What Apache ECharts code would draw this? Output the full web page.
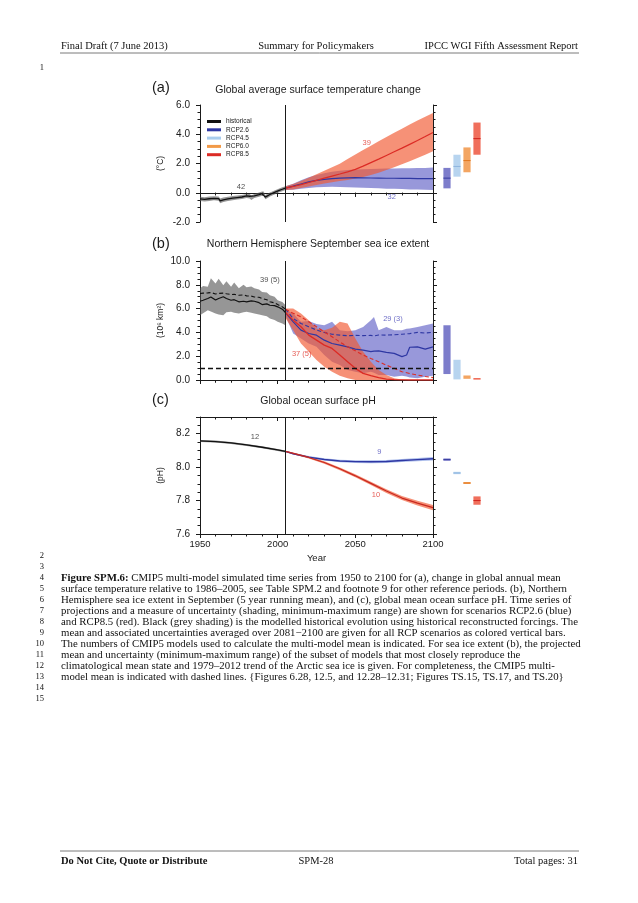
<!DOCTYPE html>
<html><head><meta charset="utf-8">
<script src="https://cdn.jsdelivr.net/npm/echarts@6/dist/echarts.min.js"></script>
<style>html,body{margin:0;padding:0;background:#fff}#c{width:638px;height:903px}</style>
</head><body><div id="c"></div>
<script>
// ---------------- DATA ----------------
const scenarios = ['RCP2.6', 'RCP4.5', 'RCP6.0', 'RCP8.5'];
const xTickYears = [1950, 2000, 2050, 2100];

// (a) temperature change
const tempHistYears = [1950,1953,1956,1959,1962,1963,1965,1968,1971,1974,1977,1980,1982,1983,1985,1988,1990,1991,1992,1993,1995,1998,2001,2003,2005];
const tempHist   = [-0.42,-0.45,-0.41,-0.38,-0.40,-0.55,-0.48,-0.42,-0.37,-0.33,-0.29,-0.22,-0.24,-0.34,-0.22,-0.13,-0.06,-0.05,-0.30,-0.25,-0.12,0.02,0.16,0.24,0.32];
const tempHistLo = [-0.57,-0.60,-0.56,-0.52,-0.55,-0.72,-0.63,-0.56,-0.51,-0.47,-0.43,-0.36,-0.39,-0.49,-0.36,-0.27,-0.20,-0.19,-0.45,-0.39,-0.26,-0.12,0.03,0.11,0.19];
const tempHistHi = [-0.27,-0.30,-0.26,-0.24,-0.25,-0.39,-0.33,-0.28,-0.23,-0.19,-0.15,-0.08,-0.09,-0.19,-0.08,0.01,0.08,0.09,-0.16,-0.11,0.02,0.15,0.29,0.37,0.45];
const tempYears  = [2005,2010,2015,2020,2025,2030,2035,2040,2045,2050,2055,2060,2065,2070,2075,2080,2085,2090,2095,2100];
const temp26   = [0.32,0.45,0.60,0.74,0.85,0.92,0.97,1.00,1.02,1.03,1.02,1.01,1.00,0.99,0.99,0.98,0.98,0.97,0.97,0.97];
const temp26Hi = [0.45,0.62,0.86,1.06,1.22,1.34,1.44,1.50,1.55,1.59,1.61,1.62,1.64,1.65,1.66,1.67,1.68,1.69,1.70,1.72];
const temp26Lo = [0.19,0.20,0.27,0.32,0.37,0.40,0.41,0.40,0.38,0.36,0.34,0.32,0.30,0.28,0.27,0.25,0.23,0.22,0.20,0.19];
const temp85   = [0.32,0.43,0.56,0.70,0.85,1.00,1.14,1.28,1.43,1.60,1.82,2.06,2.30,2.55,2.80,3.05,3.31,3.57,3.84,4.12];
const temp85Hi = [0.45,0.60,0.81,1.03,1.27,1.51,1.74,1.98,2.30,2.62,2.92,3.22,3.52,3.82,4.10,4.38,4.66,4.94,5.20,5.45];
const temp85Lo = [0.19,0.22,0.32,0.42,0.53,0.63,0.72,0.80,0.88,0.97,1.08,1.21,1.37,1.55,1.74,1.95,2.16,2.38,2.60,2.84];
const tempBarMean = [1.0, 1.8, 2.2, 3.7];
const tempBarLo   = [0.3, 1.1, 1.4, 2.6];
const tempBarHi   = [1.7, 2.6, 3.1, 4.8];

// (b) sea ice extent
const iceHistYears = [1950,1952,1955,1957,1960,1962,1965,1967,1970,1972,1975,1978,1980,1983,1985,1988,1990,1993,1995,1998,2000,2003,2005];
const iceHist   = [6.62,6.70,6.85,6.98,6.72,6.85,7.00,6.85,6.70,6.75,6.57,6.62,6.57,6.65,6.62,6.50,6.34,6.40,6.28,6.25,6.15,5.95,5.67];
const iceHistMM = [7.27,7.30,7.32,7.35,7.23,7.28,7.30,7.25,7.18,7.20,7.12,7.15,7.07,7.05,6.98,6.95,6.85,6.75,6.57,6.48,6.34,6.15,5.95];
const iceHistHi = [7.70,7.90,7.83,8.55,8.10,8.50,7.96,8.30,7.83,8.20,7.70,8.00,7.80,7.85,7.70,7.60,7.40,7.35,7.12,7.00,6.70,6.55,6.30];
const iceHistLo = [5.45,5.60,5.87,5.75,5.59,5.50,5.45,5.70,5.73,5.65,5.59,5.70,5.73,5.65,5.59,5.50,5.45,5.35,5.17,5.05,4.89,4.75,4.60];
const ice26Years = [2005,2010,2015,2020,2025,2030,2035,2040,2045,2050,2055,2060,2062,2065,2070,2075,2080,2083,2085,2090,2095,2100];
const ice26   = [5.67,4.89,4.19,3.91,3.77,3.35,3.07,2.93,2.79,2.60,2.51,2.38,2.42,2.45,2.32,2.24,1.96,2.10,2.75,2.79,2.60,2.79];
const ice26MM = [5.95,5.17,4.75,4.47,4.20,4.00,3.85,3.77,3.72,3.75,3.73,3.75,3.70,3.78,3.77,3.80,3.85,3.88,3.90,4.00,3.95,4.00];
const ice26Hi = [5.90,5.59,4.89,4.95,4.70,4.60,4.89,4.19,4.10,4.19,4.45,5.03,5.30,4.19,4.45,4.19,4.19,4.30,4.33,4.45,4.60,4.75];
const ice26Lo = [5.40,3.91,3.49,3.07,2.79,2.10,1.54,1.26,0.84,0.70,0.56,0.70,0.60,0.42,0.42,0.28,0.36,0.30,0.20,0.14,0.28,0.36];
const ice85Years = [2005,2010,2015,2020,2025,2030,2035,2040,2045,2050,2055,2060,2065,2070,2075,2080,2085,2090,2095,2100];
const ice85   = [5.67,5.03,4.47,3.77,3.35,2.93,2.65,2.10,1.54,0.98,0.56,0.36,0.20,0.08,0.03,0.01,0.00,0.00,0.00,0.00];
const ice85MM = [5.95,5.60,5.31,4.90,4.47,4.05,3.63,3.20,2.79,2.45,2.10,1.80,1.54,1.25,0.98,0.70,0.55,0.42,0.30,0.20];
const ice85Hi = [6.00,6.00,5.59,5.03,4.33,4.19,4.40,4.89,4.75,3.49,2.38,1.54,0.84,0.42,0.14,0.05,0.00,0.00,0.00,0.00];
const ice85Lo = [5.20,4.19,3.07,2.38,1.68,1.12,0.70,0.36,0.14,0.00,0.00,0.00,0.00,0.00,0.00,0.00,0.00,0.00,0.00,0.00];
const iceBarLo = [0.50, 0.05, 0.10, 0.03];
const iceBarHi = [4.60, 1.70, 0.38, 0.17];
const iceThreshold = 1.0;

// (c) ocean surface pH
const phHistYears = [1950,1960,1970,1980,1990,2000,2005];
const phHist   = [8.157,8.153,8.145,8.133,8.119,8.103,8.094];
const phHistLo = [8.151,8.147,8.139,8.127,8.113,8.097,8.088];
const phHistHi = [8.163,8.159,8.151,8.139,8.125,8.109,8.100];
const phYears  = [2005,2010,2020,2030,2040,2050,2060,2070,2080,2090,2100];
const ph26   = [8.094,8.080,8.060,8.046,8.037,8.033,8.032,8.034,8.040,8.045,8.050];
const ph26Lo = [8.090,8.075,8.054,8.039,8.030,8.025,8.023,8.025,8.031,8.036,8.040];
const ph26Hi = [8.098,8.085,8.066,8.053,8.044,8.041,8.041,8.043,8.049,8.054,8.060];
const ph85   = [8.094,8.082,8.058,8.028,7.990,7.948,7.903,7.857,7.815,7.785,7.758];
const ph85Lo = [8.090,8.077,8.052,8.021,7.982,7.939,7.893,7.846,7.803,7.771,7.742];
const ph85Hi = [8.098,8.087,8.064,8.035,7.998,7.957,7.913,7.868,7.827,7.799,7.774];
const phBarMean = [8.045, 7.965, 7.905, 7.800];
const phBarLo   = [8.038, 7.958, 7.899, 7.775];
const phBarHi   = [8.052, 7.972, 7.911, 7.825];

// model-count annotations [year, value, text]
const annotA = [[1976.4, 0.41, '42'], [2057.3, 3.40, '39'], [2073.4, -0.28, '32']];
const annotB = [[1995.0, 8.38, '39 (5)'], [2074.2, 5.17, '29 (3)'], [2015.5, 2.15, '37 (5)']];
const annotC = [[1985.4, 8.18, '12'], [2065.4, 8.09, '9'], [2063.3, 7.836, '10']];

const panelTitles = ['Global average surface temperature change', 'Northern Hemisphere September sea ice extent', 'Global ocean surface pH'];
const panelLetters = ['(a)', '(b)', '(c)'];
const yNames = ['(°C)', '(10⁶ km²)', '(pH)'];

const headerTexts = ['Final Draft (7 June 2013)', 'Summary for Policymakers', 'IPCC WGI Fifth Assessment Report'];
const footerTexts = ['Do Not Cite, Quote or Distribute', 'SPM-28', 'Total pages: 31'];
const captionLines = [
  '{b|Figure SPM.6:} CMIP5 multi-model simulated time series from 1950 to 2100 for (a), change in global annual mean',
  'surface temperature relative to 1986–2005, see Table SPM.2 and footnote 9 for other reference periods. (b), Northern',
  'Hemisphere sea ice extent in September (5 year running mean), and (c), global mean ocean surface pH. Time series of',
  'projections and a measure of uncertainty (shading, minimum-maximum range) are shown for scenarios RCP2.6 (blue)',
  'and RCP8.5 (red). Black (grey shading) is the modelled historical evolution using historical reconstructed forcings. The',
  'mean and associated uncertainties averaged over 2081−2100 are given for all RCP scenarios as colored vertical bars.',
  'The numbers of CMIP5 models used to calculate the multi-model mean is indicated. For sea ice extent (b), the projected',
  'mean and uncertainty (minimum-maximum range) of the subset of models that most closely reproduce the',
  'climatological mean state and 1979–2012 trend of the Arctic sea ice is given. For completeness, the CMIP5 multi-',
  'model mean is indicated with dashed lines. {Figures 6.28, 12.5, and 12.28–12.31; Figures TS.15, TS.17, and TS.20}'
];

// ---------------- STYLE ----------------
const SANS = '"Liberation Sans", Arial, Helvetica, sans-serif';
const SERIF = '"Liberation Serif", "Times New Roman", serif';
const INK = '#1a1a1a';
const C_HIST = '#111111', C_26 = '#2e37a3', C_85 = '#dc2b25';
const B_HIST = 'rgba(85,85,85,0.62)', B_26 = 'rgba(88,88,196,0.62)', B_85 = 'rgba(242,88,48,0.66)';
const barFill = ['#7d7dcb', '#b7d4ef', '#f3a562', '#f06f5c'];
const barMeanC = ['#343a9e', '#8db4de', '#e2781f', '#d0211c'];
const legendColors = ['#111111', '#2e37a3', '#a9cdee', '#f29a48', '#dc2b25'];

const grids = [
  {left: 200, top: 105, width: 233, height: 117},
  {left: 437, top: 105, width: 50, height: 117},
  {left: 200, top: 261, width: 233, height: 119},
  {left: 437, top: 261, width: 50, height: 119},
  {left: 200, top: 417, width: 233, height: 117},
  {left: 437, top: 417, width: 50, height: 117}
];
const yRanges = [[-2, 6, 2], [0, 10, 2], [7.6, 8.3, 0.2]];

const xAxes = [], yAxes = [];
const axLine = {show: true, lineStyle: {color: INK, width: 1}};
for (let p = 0; p < 3; p++) {
  const [mn, mx, iv] = yRanges[p];
  xAxes.push({type: 'value', gridIndex: 2 * p, min: 1950, max: 2100, interval: 50, position: 'bottom',
    axisLine: axLine, axisTick: {show: true, length: 4, lineStyle: {color: INK}},
    minorTick: {show: true, splitNumber: 5, length: 2.5, lineStyle: {color: INK}},
    splitLine: {show: false}, minorSplitLine: {show: false},
    axisLabel: {show: p === 2, fontSize: 9.5, color: INK, fontFamily: SANS, margin: 5,
      formatter: v => String(v)},
    name: p === 2 ? 'Year' : '', nameLocation: 'middle', nameGap: 19,
    nameTextStyle: {fontSize: 9.5, color: INK, fontFamily: SANS}});
  xAxes.push({type: 'value', gridIndex: 2 * p, min: 1950, max: 2100, interval: 50, position: 'top',
    axisLine: axLine, axisTick: {show: true, inside: true, length: 4, lineStyle: {color: INK}},
    minorTick: {show: true, splitNumber: 5, length: 2.5, lineStyle: {color: INK}},
    splitLine: {show: false}, axisLabel: {show: false}});
  xAxes.push({type: 'value', gridIndex: 2 * p + 1, min: 0, max: 5, show: false});
  yAxes.push({type: 'value', gridIndex: 2 * p, min: mn, max: mx, interval: iv, position: 'left',
    axisLine: axLine, axisTick: {show: true, length: 4, lineStyle: {color: INK}},
    minorTick: {show: true, splitNumber: 4, length: 2.5, lineStyle: {color: INK}},
    splitLine: {show: false},
    axisLabel: {fontSize: 10, color: INK, fontFamily: SANS, margin: 10, showMaxLabel: p !== 2,
      formatter: v => Number(v).toFixed(1)},
    name: yNames[p], nameLocation: 'middle', nameGap: 35, nameRotate: 90,
    nameTextStyle: {fontSize: 8.5, color: INK, fontFamily: SANS}});
  yAxes.push({type: 'value', gridIndex: 2 * p, min: mn, max: mx, interval: iv, position: 'right',
    axisLine: axLine, axisTick: {show: true, length: 4, lineStyle: {color: INK}},
    minorTick: {show: true, splitNumber: 4, length: 2.5, lineStyle: {color: INK}},
    splitLine: {show: false}, axisLabel: {show: false}});
  yAxes.push({type: 'value', gridIndex: 2 * p + 1, min: mn, max: mx, show: false});
}

function band(p, years, lo, hi, fill) {
  return {type: 'custom', xAxisIndex: 3 * p, yAxisIndex: 3 * p, silent: true, clip: true, z: 1,
    data: years.map((y, i) => [y, lo[i], hi[i]]), encode: {x: 0, y: [1, 2]},
    renderItem: (params, api) => {
      if (params.dataIndex !== 0) return {type: 'group', children: []};
      const pts = [];
      for (let i = 0; i < years.length; i++) pts.push(api.coord([years[i], hi[i]]));
      for (let i = years.length - 1; i >= 0; i--) pts.push(api.coord([years[i], lo[i]]));
      return {type: 'polygon', shape: {points: pts}, style: {fill: fill}};
    }};
}
function line(p, name, years, vals, color, width, dashed, extra) {
  return Object.assign({type: 'line', name: name, xAxisIndex: 3 * p, yAxisIndex: 3 * p, silent: true,
    data: years.map((y, i) => [y, vals[i]]), showSymbol: false, symbol: 'none', clip: true, z: 3,
    lineStyle: {color: color, width: width, type: dashed ? [4, 2.5] : 'solid'}, itemStyle: {color: color}}, extra || {});
}
function vline(extraData) {
  return {markLine: {silent: true, symbol: ['none', 'none'], label: {show: false}, animation: false,
    lineStyle: {color: INK, width: 1, type: 'solid'},
    data: [{xAxis: 2005}].concat(extraData || [])}};
}
function bars(p, lo, hi, mean) {
  return scenarios.map((s, i) => ({type: 'custom', name: s, xAxisIndex: 3 * p + 2, yAxisIndex: 3 * p + 2, silent: true,
    itemStyle: {color: barFill[i]},
    data: [[i + 1, lo[i], hi[i], mean ? mean[i] : null]], encode: {x: 0, y: [1, 2]},
    renderItem: (params, api) => {
      const x = api.value(0);
      const a = api.coord([x, api.value(2)]), b = api.coord([x, api.value(1)]);
      const w = api.size([0.72, 0])[0];
      const ch = [{type: 'rect', shape: {x: a[0] - w / 2, y: a[1], width: w, height: Math.max(1, b[1] - a[1])},
        style: {fill: barFill[i]}}];
      if (mean) {
        const m = api.coord([x, mean[i]]);
        ch.push({type: 'line', shape: {x1: m[0] - w / 2, y1: m[1], x2: m[0] + w / 2, y2: m[1]},
          style: {stroke: barMeanC[i], lineWidth: 1}});
      }
      return {type: 'group', children: ch};
    }}));
}
function annots(p, list, colors) {
  return {type: 'scatter', xAxisIndex: 3 * p, yAxisIndex: 3 * p, silent: true, symbolSize: 0, z: 6,
    data: list.map((a, i) => ({value: [a[0], a[1]], name: a[2],
      label: {show: true, position: 'inside', formatter: '{b}', fontSize: 7.5, fontFamily: SANS, color: colors[i]}}))};
}

const series = [
  // (a)
  band(0, tempHistYears, tempHistLo, tempHistHi, B_HIST),
  band(0, tempYears, temp26Lo, temp26Hi, B_26),
  band(0, tempYears, temp85Lo, temp85Hi, B_85),
  line(0, 'historical', tempHistYears, tempHist, C_HIST, 1.3, false, vline()),
  line(0, 'RCP2.6', tempYears, temp26, C_26, 1.2, false),
  line(0, 'RCP8.5', tempYears, temp85, C_85, 1.2, false),
  ...bars(0, tempBarLo, tempBarHi, tempBarMean),
  annots(0, annotA, ['#222', '#e0352c', '#4a4ab8']),
  // (b)
  band(1, iceHistYears, iceHistLo, iceHistHi, B_HIST),
  band(1, ice26Years, ice26Lo, ice26Hi, B_26),
  band(1, ice85Years, ice85Lo, ice85Hi, B_85),
  line(1, 'historical', iceHistYears, iceHist, C_HIST, 1.2, false,
    vline([{yAxis: iceThreshold, lineStyle: {type: [5, 3], width: 1.3, color: '#111'}}])),
  line(1, 'historical', iceHistYears, iceHistMM, C_HIST, 1.1, true),
  line(1, 'RCP2.6', ice26Years, ice26, C_26, 1.2, false),
  line(1, 'RCP2.6', ice26Years, ice26MM, C_26, 1.1, true),
  line(1, 'RCP8.5', ice85Years, ice85, C_85, 1.3, false),
  line(1, 'RCP8.5', ice85Years, ice85MM, C_85, 1.1, true),
  ...bars(1, iceBarLo, iceBarHi, null),
  annots(1, annotB, ['#222', '#4a4ab8', '#e0352c']),
  // (c)
  band(2, phHistYears, phHistLo, phHistHi, B_HIST),
  band(2, phYears, ph26Lo, ph26Hi, 'rgba(110,140,220,0.55)'),
  band(2, phYears, ph85Lo, ph85Hi, B_85),
  line(2, 'historical', phHistYears, phHist, C_HIST, 1.3, false, vline()),
  line(2, 'RCP2.6', phYears, ph26, C_26, 1.4, false),
  line(2, 'RCP8.5', phYears, ph85, '#c8281f', 1.2, false),
  ...bars(2, phBarLo, phBarHi, phBarMean),
  annots(2, annotC, ['#222', '#4a4ab8', '#e0352c'])
];

// page text
const graphic = [];
const txt = (x, y, text, size, align, extra) => graphic.push({type: 'text', x: x, y: y, silent: true,
  style: Object.assign({text: text, fontSize: size, fontFamily: SERIF, fill: '#111', align: align, verticalAlign: 'middle'}, extra || {})});
txt(61, 46, headerTexts[0], 10.5, 'left');
txt(316, 46, headerTexts[1], 10.5, 'center');
txt(578, 46, headerTexts[2], 10.5, 'right');
graphic.push({type: 'line', silent: true, shape: {x1: 60, y1: 53, x2: 579, y2: 53}, style: {stroke: '#7a7a7a', lineWidth: 1}});
txt(44, 68, '1', 8.5, 'right');
for (let n = 2; n <= 15; n++) txt(44, 556 + 11 * (n - 2), String(n), 8.5, 'right');
captionLines.forEach((l, k) => txt(61, 578 + 11 * k, l, 10.8, 'left',
  {rich: {b: {fontWeight: 'bold', fontSize: 10.8, fontFamily: SERIF, fill: '#111'}}}));
graphic.push({type: 'line', silent: true, shape: {x1: 60, y1: 851, x2: 579, y2: 851}, style: {stroke: '#7a7a7a', lineWidth: 1}});
txt(61, 861, footerTexts[0], 10.5, 'left', {fontWeight: 'bold'});
txt(316, 861, footerTexts[1], 10.5, 'center');
txt(578, 861, footerTexts[2], 10.5, 'right');

const titleTops = [[80, 85], [236, 239], [392, 396]];
const titles = [];
for (let p = 0; p < 3; p++) {
  titles.push({text: panelLetters[p], left: 152, top: titleTops[p][0], padding: 0,
    textStyle: {fontSize: 14.5, fontWeight: 'normal', color: INK, fontFamily: SANS}});
  titles.push({text: panelTitles[p], left: 318, top: titleTops[p][1], padding: 0, textAlign: 'center',
    textStyle: {fontSize: 10.5, fontWeight: 'normal', color: INK, fontFamily: SANS}});
}

const chart = echarts.init(document.getElementById('c'), null, {renderer: 'canvas'});
chart.setOption({
  animation: false,
  backgroundColor: '#ffffff',
  textStyle: {fontFamily: SANS},
  title: titles,
  legend: {show: true, orient: 'vertical', left: 207, top: 118, padding: 0, icon: 'rect',
    itemWidth: 14, itemHeight: 3, itemGap: 1.3, selectedMode: false,
    textStyle: {fontSize: 6.5, lineHeight: 7, color: INK, fontFamily: SANS},
    data: ['historical', 'RCP2.6', 'RCP4.5', 'RCP6.0', 'RCP8.5'].map((n, i) => ({name: n, itemStyle: {color: legendColors[i]}}))},
  grid: grids,
  xAxis: xAxes,
  yAxis: yAxes,
  series: series,
  graphic: graphic
});
</script></body></html>
